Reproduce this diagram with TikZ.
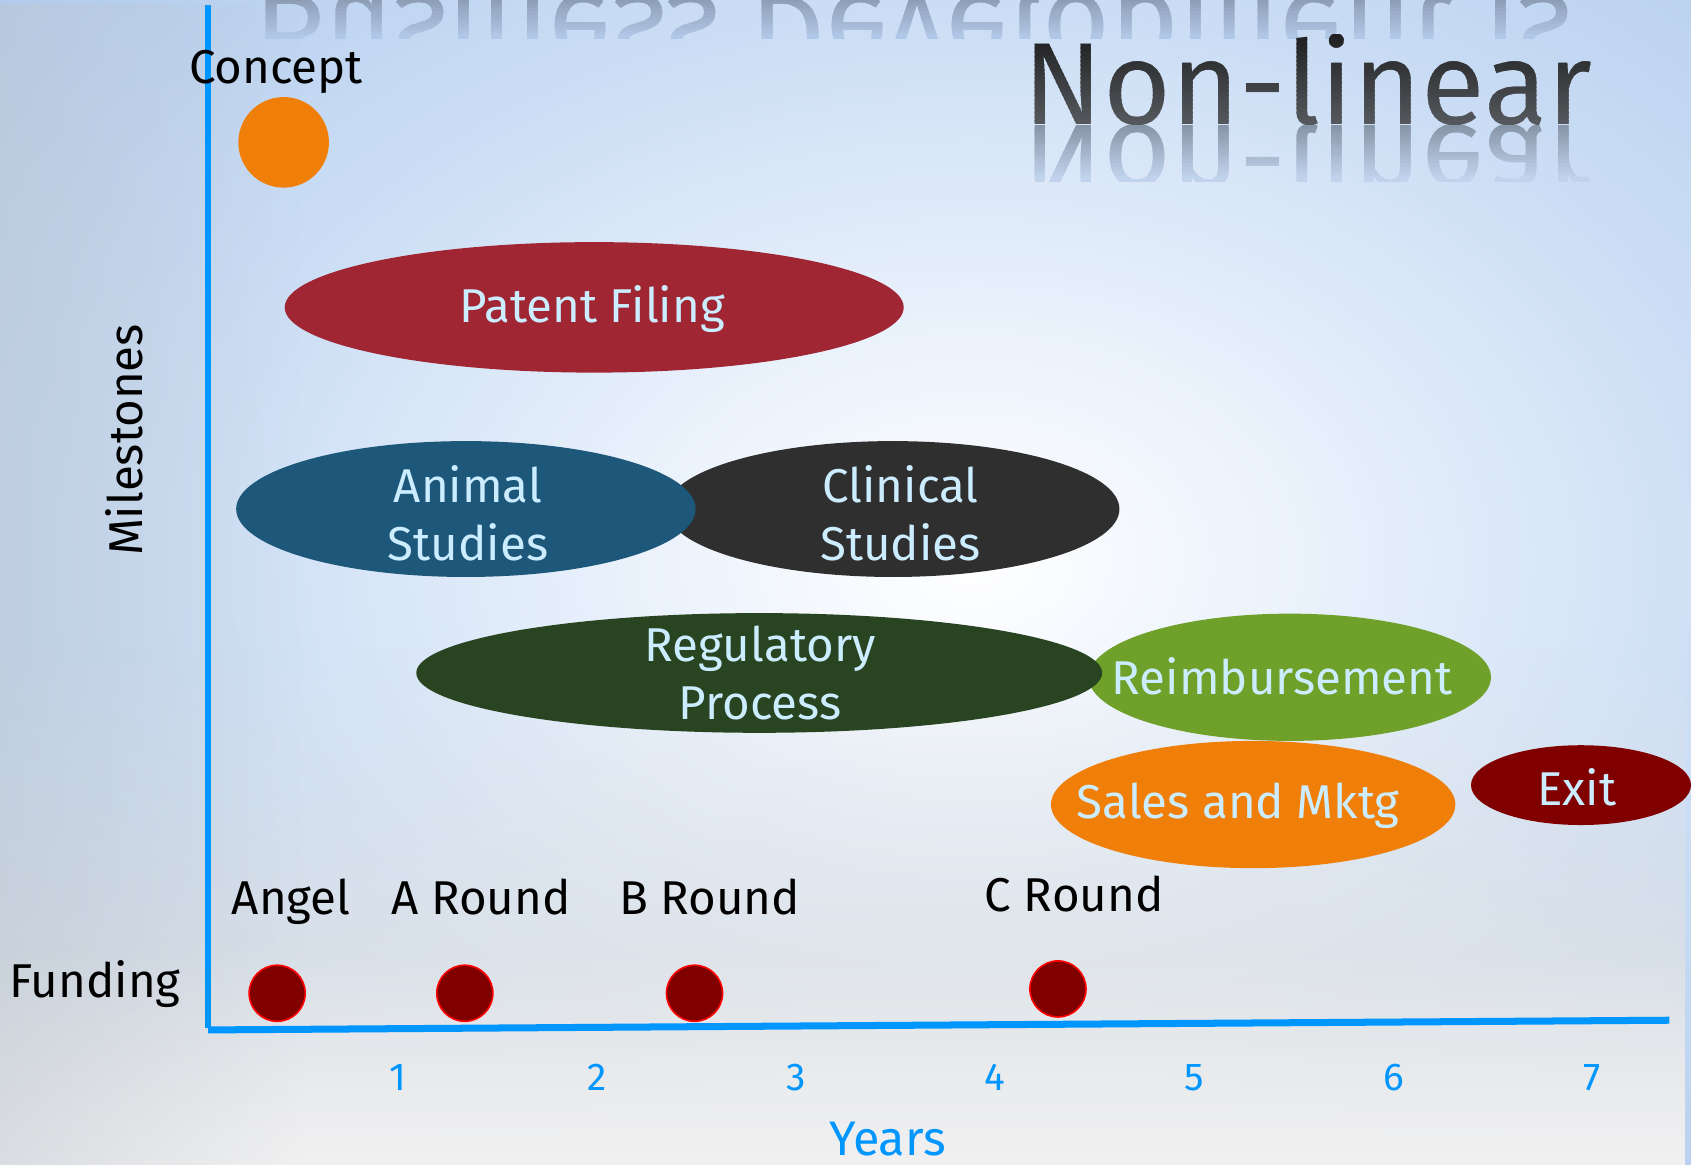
\documentclass[tikz,border=0pt]{standalone}
\usepackage{fontspec}
\setmainfont{Fira Sans}
\usetikzlibrary{positioning,shapes.geometric,fadings}

\definecolor{axisblue}{RGB}{0,150,255}
\definecolor{patentred}{RGB}{160,38,52}
\definecolor{animalblue}{RGB}{29,88,122}
\definecolor{clinicalgray}{RGB}{47,47,47}
\definecolor{regulgreen}{RGB}{40,68,33}
\definecolor{reimbgreen}{RGB}{110,160,42}
\definecolor{salesorange}{RGB}{240,127,10}
\definecolor{exitred}{RGB}{128,0,0}
\definecolor{stagefont}{RGB}{204,236,255}
\definecolor{titlegray}{RGB}{84,88,92}
\definecolor{titledark}{RGB}{32,32,34}
\definecolor{mirrorgray}{RGB}{95,105,120}
\definecolor{bgmirror}{RGB}{196,214,240}
\definecolor{bgghost}{RGB}{180,202,234}
\definecolor{bgtop}{RGB}{176,202,236}
\definecolor{bgmid}{RGB}{204,222,245}
\definecolor{bgcenter}{RGB}{236,243,252}
\definecolor{bglow}{RGB}{228,228,226}
\definecolor{bgbottom}{RGB}{244,244,246}
\definecolor{bgside}{RGB}{190,198,206}

% slide background: bright glow in the middle
\pgfdeclareradialshading{slideglow}{\pgfpointorigin}{color(0bp)=(white); color(7bp)=(bgcenter); color(18bp)=(bgmid); color(30bp)=(bgtop); color(50bp)=(bgtop)}

\tikzset{
  axisline/.style={draw=axisblue, line width=5.5pt},
  stage/.style={ellipse, inner sep=0pt},
  stagetext/.style={text=stagefont, font=\fontsize{44}{54}\selectfont, align=center},
  blacklabel/.style={text=black, font=\fontsize{44}{54}\selectfont},
  funddot/.style={circle, fill=exitred, draw=red, line width=1.5pt, minimum size=52pt, inner sep=0pt},
  yearlabel/.style={text=axisblue, font=\fontsize{36}{40}\selectfont},
  bigtitle/.style={font=\fontsize{108}{120}\selectfont, inner sep=0pt}
}

\begin{document}
\begin{tikzpicture}[x=1pt,y=-1pt]
\useasboundingbox (0,0) rectangle (1568,1080);

% background
\begin{scope}
  \clip (0,0) rectangle (1568,1080);
  \shade[shading=slideglow] (-100,-180) rectangle (1900,1220);
  \fill[bglow, path fading=north] (0,600) rectangle (1568,1080);
  \fill[bgbottom, path fading=north, opacity=0.8] (0,880) rectangle (1568,1080);
  \fill[bgside, path fading=east, opacity=0.45] (0,0) rectangle (280,1080);
\end{scope}

% mirrored title above the slide, fading out downwards
\foreach \s in {0,...,12} {
  \pgfmathtruncatemacro\mix{50*(1-\s/13)}
  \begin{scope}
    \clip (200,-4+3*\s) rectangle (1520,3*\s);
    \node[bigtitle, text=mirrorgray!\mix!bgghost, anchor=base west] (ghost\s) at (236,-4) {\scalebox{1}[-1]{Business Development is}};
  \end{scope}
}

% title, dark at the top
\foreach \s in {0,...,20} {
  \pgfmathtruncatemacro\mix{100-5*\s}
  \begin{scope}
    \clip (900,32+4*\s) rectangle (1520,37+4*\s);
    \node[bigtitle, text=titledark!\mix!titlegray, anchor=base] (title\s) at (1213,115) {Non-linear};
  \end{scope}
}
% and its reflection
\foreach \s in {0,...,16} {
  \pgfmathtruncatemacro\mix{60*(1-\s/17)}
  \begin{scope}
    \clip (900,116+3*\s) rectangle (1520,120+3*\s);
    \node[bigtitle, text=mirrorgray!\mix!bgmirror, anchor=base] (mirror\s) at (1213,116) {\scalebox{1}[-1]{Non-linear}};
  \end{scope}
}

% axes
\coordinate (ytop) at (193,5);
\coordinate (ybot) at (193,953);
\coordinate (origin) at (193,955);
\coordinate (xend) at (1548,946);
\draw[axisline] (ytop) -- (ybot);
\draw[axisline, line width=6.5pt] (origin) -- (xend);

\node[blacklabel, rotate=90] (milestones) at (115,408) {Milestones};
\node[blacklabel, anchor=base] (funding) at (88,925) {Funding};
\node[text=axisblue, font=\fontsize{45}{50}\selectfont, anchor=base] (years) at (823,1071) {Years};
\foreach \n in {1,...,7}
  \node[yearlabel, anchor=base] (year\n) at (184.6*\n+184.5,1011) {\n};

% concept
\node[blacklabel, anchor=base] (concept) at (256,77) {Concept};
\node[circle, fill=salesorange, minimum size=84pt, inner sep=0pt] (concept dot) at (263,132) {};

% milestones
\node[stage, fill=patentred, minimum width=574pt, minimum height=121pt] (patent) at (551,285) {};
\node[stagetext] (patent text) at (549,287) {Patent Filing};

\node[stage, fill=clinicalgray, minimum width=420pt, minimum height=126pt] (clinical) at (828,472) {};
\node[stage, fill=animalblue, minimum width=426pt, minimum height=126pt] (animal) at (432,472) {};
\node[stagetext] (animal text) at (434,476) {Animal\\Studies};
\node[stagetext] (clinical text) at (835,476) {Clinical\\Studies};

\node[stage, fill=reimbgreen, minimum width=373pt, minimum height=118pt] (reimb) at (1196,628) {};
\node[stage, fill=regulgreen, minimum width=636pt, minimum height=111pt] (regul) at (704,624) {};
\node[stagetext] (regul text) at (705,624) {Regulatory\\Process};
\node[stagetext] (reimb text) at (1189,627) {Reimbursement};

\node[stage, fill=salesorange, minimum width=375pt, minimum height=118pt] (sales) at (1162,746) {};
\node[stagetext] (sales text) at (1148,747) {Sales and Mktg};
\node[stage, fill=exitred, minimum width=204pt, minimum height=74pt] (exit) at (1466,728) {};
\node[stagetext] (exit text) at (1462,730) {Exit};

% funding rounds
\node[blacklabel, anchor=base] (angel) at (270,848) {Angel};
\node[blacklabel, anchor=base] (round a) at (446,848) {A Round};
\node[blacklabel, anchor=base] (round b) at (658,848) {B Round};
\node[blacklabel, anchor=base] (round c) at (996,845) {C Round};
\node[funddot] (angel dot) at (257,921) {};
\node[funddot] (round a dot) at (431,921) {};
\node[funddot] (round b dot) at (644,921) {};
\node[funddot] (round c dot) at (981,917) {};
\end{tikzpicture}
\end{document}
